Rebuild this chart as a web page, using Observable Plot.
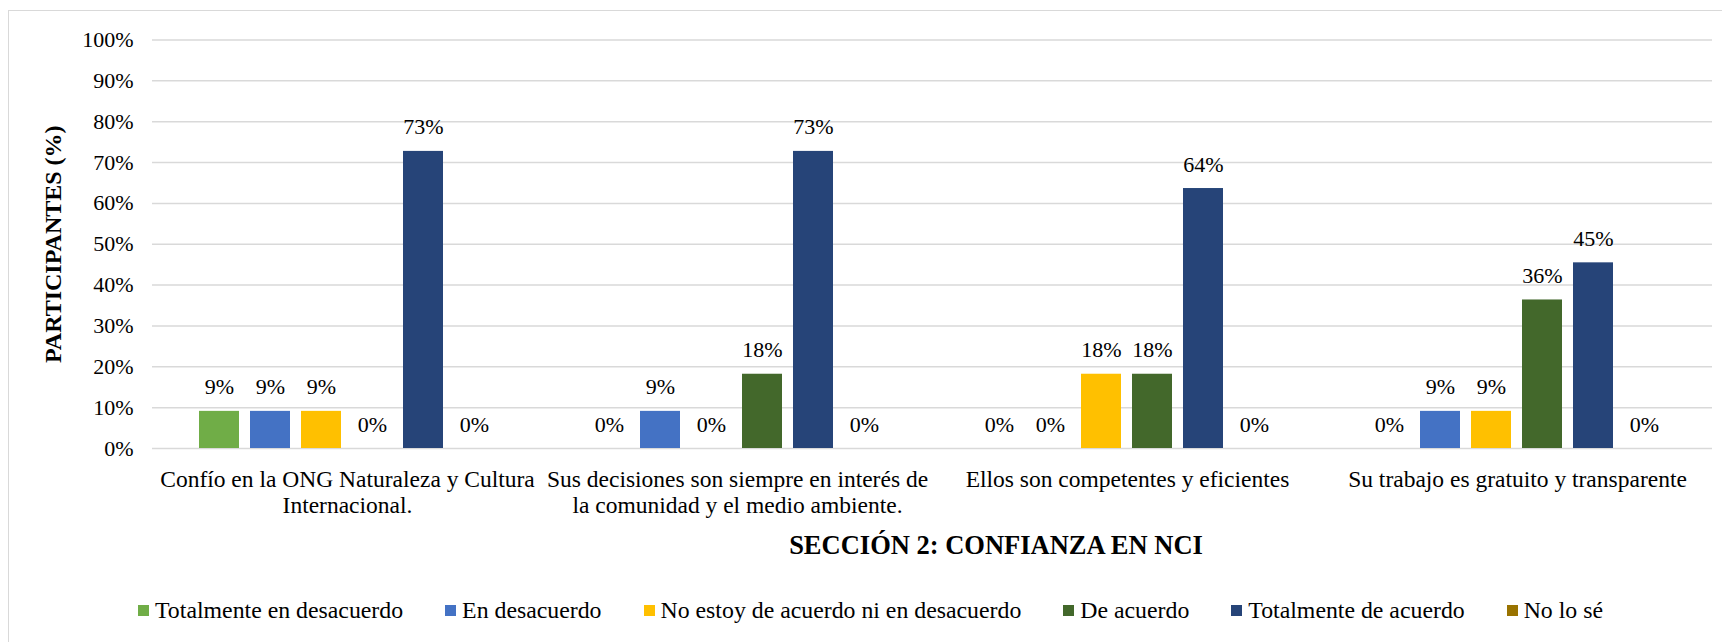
<!DOCTYPE html>
<html>
<head>
<meta charset="utf-8">
<script src="https://cdn.jsdelivr.net/npm/d3@7"></script>
<script src="https://cdn.jsdelivr.net/npm/@observablehq/plot@0.6"></script>
<style>
  html, body { margin: 0; padding: 0; background: #fff; overflow: hidden; width: 1722px; height: 642px; }
  body { position: relative; font-family: "Liberation Serif", "Times New Roman", serif; color: #000; }
  #frame { position: absolute; left: 8px; top: 10px; width: 1800px; height: 700px; border: 1px solid #d9d9d9; box-sizing: border-box; }
  #chart { position: absolute; left: 0; top: 0; }
  #chart svg { overflow: visible; }
  [aria-label="y-axis label"] { font-weight: bold; font-size: 24px; }
  #title { position: absolute; left: 996px; top: 530px; transform: translateX(-50%); font-weight: bold; font-size: 26.5px; line-height: 30px; white-space: nowrap; }
  #legend { position: absolute; left: 138px; top: 598px; display: flex; align-items: center; font-size: 23.8px; line-height: 24px; white-space: nowrap; }
  #legend .item { display: flex; align-items: center; margin-right: 42px; }
  #legend .sw { width: 11px; height: 11px; margin-right: 6px; display: inline-block; }
</style>
</head>
<body>
<div id="frame"></div>
<div id="chart"></div>
<div id="title"></div>
<div id="legend"></div>
<script>
// ---- Data ----
const categories = [
  "Confío en la ONG Naturaleza y Cultura Internacional.",
  "Sus decisiones son siempre en interés de la comunidad y el medio ambiente.",
  "Ellos son competentes y eficientes",
  "Su trabajo es gratuito y transparente"
];
const categoryLabels = [
  "Confío en la ONG Naturaleza y Cultura\nInternacional.",
  "Sus decisiones son siempre en interés de\nla comunidad y el medio ambiente.",
  "Ellos son competentes y eficientes",
  "Su trabajo es gratuito y transparente"
];
const series = [
  "Totalmente en desacuerdo",
  "En desacuerdo",
  "No estoy de acuerdo ni en desacuerdo",
  "De acuerdo",
  "Totalmente de acuerdo",
  "No lo sé"
];
const colors = ["#70ad47", "#4472c4", "#ffc000", "#43682b", "#264478", "#997300"];

// values (%) per category, in series order
const confio      = [9.09, 9.09, 9.09, 0, 72.73, 0];
const decisiones  = [0, 9.09, 0, 18.18, 72.73, 0];
const competentes = [0, 0, 18.18, 18.18, 63.64, 0];
const trabajo     = [0, 9.09, 9.09, 36.36, 45.45, 0];

const yTicks = [0, 10, 20, 30, 40, 50, 60, 70, 80, 90, 100];
const yTitle = "PARTICIPANTES (%)";
const chartTitle = "SECCIÓN 2: CONFIANZA EN NCI";

// ---- Build table ----
const valueRows = [confio, decisiones, competentes, trabajo];
const data = categories.flatMap((c, i) =>
  series.map((s, j) => ({category: c, series: s, value: valueRows[i][j]}))
);

const chart = Plot.plot({
  width: 1722,
  height: 525,
  marginLeft: 151,
  marginRight: 9,
  marginTop: 39.5,
  marginBottom: 77,
  style: {fontFamily: "'Liberation Serif', 'Times New Roman', serif", fontSize: "22px", color: "#000", background: "transparent"},
  fx: {domain: categories, paddingInner: 0, paddingOuter: 0},
  x: {domain: series, paddingInner: 0.21, paddingOuter: 0.86, axis: null},
  y: {domain: [0, 100]},
  color: {domain: series, range: colors},
  marks: [
    Plot.ruleY(yTicks, {stroke: "#d9d9d9", strokeWidth: 1.5}),
    Plot.axisY({
      ticks: yTicks, tickFormat: d => d + "%", tickSize: 0, tickPadding: 19,
      fontSize: 22, label: yTitle, labelAnchor: "center", labelOffset: 109, labelArrow: false
    }),
    Plot.axisFx({
      anchor: "bottom", tickSize: 0, tickPadding: 20, fontSize: 23.5, lineHeight: 1.1,
      tickFormat: d => categoryLabels[categories.indexOf(d)], label: null
    }),
    Plot.barY(data, {fx: "category", x: "series", y: "value", fill: "series"}),
    Plot.text(data, {
      fx: "category", x: "series", y: "value",
      text: d => Math.round(d.value) + "%", dy: -24, fontSize: 22, fill: "#000"
    })
  ]
});
document.getElementById("chart").appendChild(chart);

document.getElementById("title").textContent = chartTitle;

const legend = document.getElementById("legend");
series.forEach((s, i) => {
  const item = document.createElement("div");
  item.className = "item";
  const sw = document.createElement("span");
  sw.className = "sw";
  sw.style.background = colors[i];
  const t = document.createElement("span");
  t.textContent = s;
  item.appendChild(sw);
  item.appendChild(t);
  legend.appendChild(item);
});
</script>
</body>
</html>
